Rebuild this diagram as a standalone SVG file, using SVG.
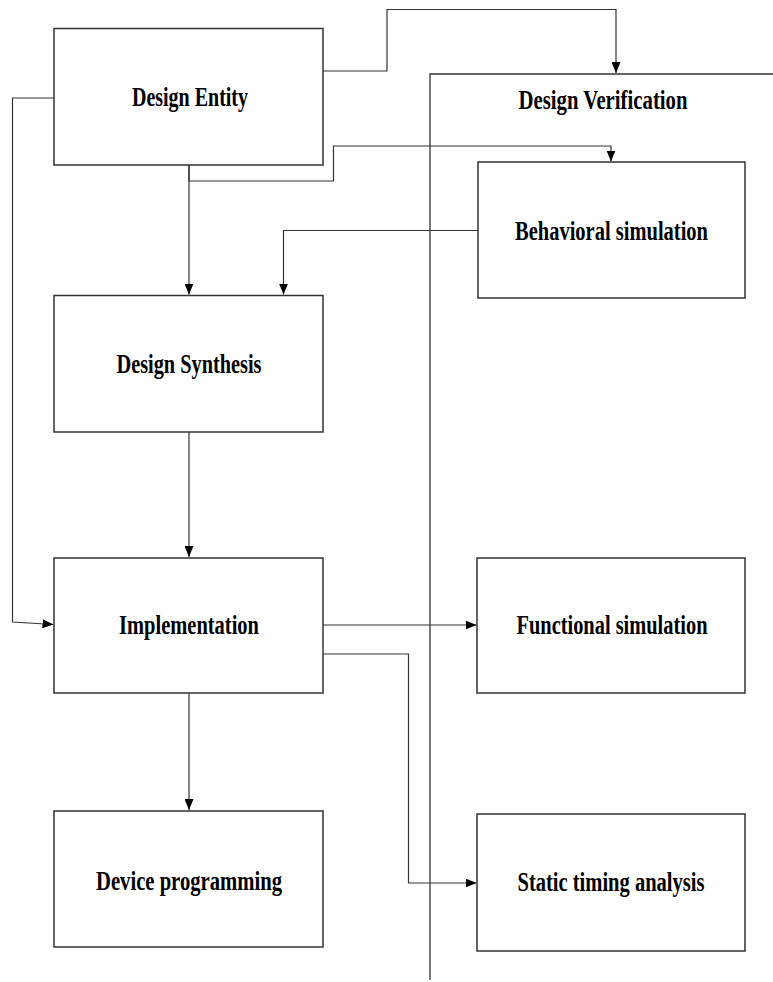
<svg xmlns="http://www.w3.org/2000/svg" width="773" height="982" viewBox="0 0 773 982">
<defs>
<marker id="ah" markerWidth="11" markerHeight="9" refX="11" refY="4.5" orient="auto" markerUnits="userSpaceOnUse">
<path d="M0,0 L11,4.5 L0,9 Z" fill="#000"/>
</marker>
<style>
.box{fill:#fff;stroke:#333;stroke-width:1.5}
.lbl{font-family:"Liberation Serif","Times New Roman",serif;font-weight:bold;font-size:28px;fill:#000;text-anchor:middle}
.c{fill:none;stroke:#333;stroke-width:1.2}
.ca{fill:none;stroke:#333;stroke-width:1.2;marker-end:url(#ah)}
</style>
</defs>
<rect width="773" height="982" fill="#fff"/>
<g id="connectors">
<polyline class="ca" points="323,71 387,71 387,9.5 616,9.5 616,73"/>
<polyline class="ca" points="189,165 189,181 333.5,181 333.5,146 611,146 611,161.5"/>
<polyline class="ca" points="189,165 189,294.5"/>
<polyline class="ca" points="478,230.5 283.5,230.5 283.5,294.5"/>
<polyline class="ca" points="189,432 189,557"/>
<polyline class="ca" points="54,98 12.5,98 12.5,622 53.5,624.5"/>
<polyline class="ca" points="323,625 476.5,625"/>
<polyline class="ca" points="323,654 408.5,654 408.5,883 476.5,883"/>
<polyline class="ca" points="189,693 189,810"/>
</g>
<g id="design-verification">
<polyline class="c" points="773,74 430,74 430,980" style="stroke-width:1.3"/>
<text class="lbl" x="603" y="109" textLength="169" lengthAdjust="spacingAndGlyphs">Design Verification</text>
</g>
<g id="design-entity">
<rect class="box" x="54" y="28.5" width="269" height="136.5"/>
<text class="lbl" x="190" y="106" textLength="116" lengthAdjust="spacingAndGlyphs">Design Entity</text>
</g>
<g id="behavioral-simulation">
<rect class="box" x="478" y="162" width="267" height="136"/>
<text class="lbl" x="611.5" y="240" textLength="193" lengthAdjust="spacingAndGlyphs">Behavioral simulation</text>
</g>
<g id="design-synthesis">
<rect class="box" x="54" y="295.5" width="269" height="136.5"/>
<text class="lbl" x="189" y="373" textLength="145" lengthAdjust="spacingAndGlyphs">Design Synthesis</text>
</g>
<g id="implementation">
<rect class="box" x="54" y="558" width="269" height="135"/>
<text class="lbl" x="189" y="634" textLength="140" lengthAdjust="spacingAndGlyphs">Implementation</text>
</g>
<g id="functional-simulation">
<rect class="box" x="477" y="558" width="268" height="135"/>
<text class="lbl" x="612" y="634" textLength="191" lengthAdjust="spacingAndGlyphs">Functional simulation</text>
</g>
<g id="device-programming">
<rect class="box" x="54" y="811" width="269" height="136"/>
<text class="lbl" x="189" y="890" textLength="186" lengthAdjust="spacingAndGlyphs">Device programming</text>
</g>
<g id="static-timing-analysis">
<rect class="box" x="477" y="814" width="268" height="137"/>
<text class="lbl" x="611" y="891" textLength="187" lengthAdjust="spacingAndGlyphs">Static timing analysis</text>
</g>
</svg>
